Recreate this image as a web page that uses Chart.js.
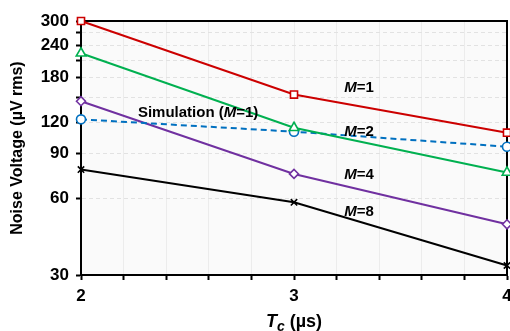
<!DOCTYPE html>
<html>
<head>
<meta charset="utf-8">
<script src="https://cdn.jsdelivr.net/npm/chart.js@4"></script>
<style>
  html, body { margin: 0; padding: 0; background: #fff; }
  #wrap { width: 510px; height: 331px; }
</style>
</head>
<body>
<div id="wrap"><canvas id="myChart" width="510" height="331"></canvas></div>
<script>
// T_c values (us) and noise voltage (uV rms)
const tcValues = [2, 3, 4];
const m1Values = [300, 154, 109];
const m2Values = [224, 114, 76];
const simValues = [123, 110, 96];
const m4Values = [145, 75, 47.5];
const m8Values = [78, 58, 32.7];

const yTickValues = [30, 60, 90, 120, 150, 180, 210, 240, 270, 300];
const yTickLabels = ["30", "60", "90", "120", "", "180", "", "240", "", "300"];
const xTickLabels = ["2", "3", "4"];

const FONT = "'Liberation Sans', Arial, sans-serif";
const PLOT_RIGHT = 507;

function toPoints(values) {
  return tcValues.map((x, i) => ({ x: x, y: values[i] }));
}

// text labels next to the curves, placed in data coordinates
const curveLabels = [
  { parts: [["M", true], ["=1", false]], x: 3.305, y: 164 },
  { parts: [["M", true], ["=2", false]], x: 3.305, y: 110 },
  { parts: [["M", true], ["=4", false]], x: 3.305, y: 74.7 },
  { parts: [["M", true], ["=8", false]], x: 3.305, y: 53 },
  { parts: [["Simulation (", false], ["M", true], ["=1)", false]], x: 2.55, y: 130 },
];

function drawParts(c, parts, cx, cy, size) {
  let total = 0;
  parts.forEach((p) => {
    c.font = (p[1] ? "italic " : "") + "bold " + size + "px " + FONT;
    total += c.measureText(p[0]).width;
  });
  let x = cx - total / 2;
  parts.forEach((p) => {
    c.font = (p[1] ? "italic " : "") + "bold " + size + "px " + FONT;
    c.fillText(p[0], x, cy);
    x += c.measureText(p[0]).width;
  });
}

const noPadding = () => ({ left: 0, top: 0, right: 0, bottom: 0 });

const framePlugin = {
  id: "frame",
  // pin the right edge of the plot where the original has it
  afterLayout(chart) {
    const xs = chart.scales.x;
    chart.chartArea.right = PLOT_RIGHT;
    chart.chartArea.width = PLOT_RIGHT - chart.chartArea.left;
    xs.right = PLOT_RIGHT;
    xs.width = PLOT_RIGHT - xs.left;
    xs.configure();
    const ys = chart.scales.y;
    ys.configure();
  },
  beforeDraw(chart) {
    const { ctx: c, chartArea: a } = chart;
    c.save();
    c.fillStyle = "#fafafa";
    c.fillRect(a.left, a.top, a.right - a.left, a.bottom - a.top);
    c.restore();
  },
  beforeDatasetsDraw(chart) {
    const { ctx: c, chartArea: a } = chart;
    c.save();
    c.strokeStyle = "#000";
    c.lineWidth = 2;
    c.strokeRect(a.left, a.top, a.right - a.left, a.bottom - a.top);
    c.restore();
  },
  afterDraw(chart) {
    const { ctx: c, chartArea: a, scales } = chart;
    c.save();
    c.fillStyle = "#000";
    c.textBaseline = "middle";
    curveLabels.forEach((l) => {
      drawParts(c, l.parts, scales.x.getPixelForValue(l.x), scales.y.getPixelForValue(l.y), 15);
    });

    // y axis title
    c.save();
    c.translate(18, (a.top + a.bottom) / 2);
    c.rotate(-Math.PI / 2);
    c.textAlign = "center";
    c.font = "bold 16px " + FONT;
    c.fillText("Noise Voltage (\u00b5V rms)", 0, 0);
    c.restore();

    // x axis title: T with subscript c
    c.textBaseline = "alphabetic";
    c.textAlign = "left";
    const f1 = "italic bold 18px " + FONT;
    const f2 = "italic bold 14px " + FONT;
    const f3 = "bold 18px " + FONT;
    c.font = f1; const w1 = c.measureText("T").width;
    c.font = f2; const w2 = c.measureText("c").width;
    c.font = f3; const w3 = c.measureText(" (\u00b5s)").width;
    let x = (a.left + a.right) / 2 - (w1 + w2 + w3) / 2;
    const base = 327;
    c.font = f1; c.fillText("T", x, base); x += w1;
    c.font = f2; c.fillText("c", x, base + 4); x += w2;
    c.font = f3; c.fillText(" (\u00b5s)", x, base);
    c.restore();
  },
};

const ctx = document.querySelector("#myChart");

const myChart = new Chart(ctx, {
  type: "line",
  data: {
    datasets: [
      {
        label: "M=1",
        data: toPoints(m1Values),
        borderColor: "#cc0000",
        pointStyle: "rect",
        pointRadius: 5,
      },
      {
        label: "M=2",
        data: toPoints(m2Values),
        borderColor: "#00b050",
        pointStyle: "triangle",
        pointRadius: 5.5,
      },
      {
        label: "Simulation (M=1)",
        data: toPoints(simValues),
        borderColor: "#0070c0",
        borderDash: [6, 4],
        pointStyle: "circle",
        pointRadius: 4.5,
      },
      {
        label: "M=4",
        data: toPoints(m4Values),
        borderColor: "#7030a0",
        pointStyle: "rectRot",
        pointRadius: 4.5,
      },
      {
        label: "M=8",
        data: toPoints(m8Values),
        borderColor: "#000000",
        pointStyle: "crossRot",
        pointRadius: 4.5,
      },
    ].map((d) => ({
      ...d,
      borderWidth: 2,
      pointBorderWidth: 1.6,
      pointBorderColor: d.borderColor,
      pointBackgroundColor: "#ffffff",
      fill: false,
      tension: 0,
      clip: false,
    })),
  },
  options: {
    responsive: false,
    animation: false,
    events: [],
    layout: { padding: { top: 21, right: 3, left: 0, bottom: 0 } },
    plugins: { legend: { display: false }, tooltip: { enabled: false } },
    scales: {
      x: {
        type: "linear",
        min: 2,
        max: 4,
        afterBuildTicks: (scale) => {
          const t = [];
          for (let i = 0; i <= 10; i++) t.push({ value: 2 + i * 0.2 });
          scale.ticks = t;
        },
        afterFit: (scale) => {
          scale.height = 56;
          scale.paddingLeft = 0;
          scale.paddingRight = 0;
          scale.getPadding = noPadding;
        },
        ticks: {
          autoSkip: false,
          maxRotation: 0,
          padding: 6,
          color: "#000",
          font: { family: FONT, size: 17, weight: "bold" },
          callback: (v) => {
            const r = Math.round(v);
            return Math.abs(v - r) < 1e-6 ? xTickLabels[tcValues.indexOf(r)] : "";
          },
        },
        grid: {
          color: "#ececec",
          lineWidth: 1,
          tickLength: 5,
          tickColor: "#000",
          tickWidth: 2,
        },
        border: { color: "#000", width: 2 },
      },
      y: {
        type: "logarithmic",
        min: 30,
        max: 300,
        afterBuildTicks: (scale) => {
          scale.ticks = yTickValues.map((v) => ({ value: v }));
        },
        afterFit: (scale) => {
          scale.width = 81;
          scale.paddingTop = 0;
          scale.paddingBottom = 0;
          scale.getPadding = noPadding;
        },
        ticks: {
          autoSkip: false,
          padding: 7,
          color: "#000",
          font: { family: FONT, size: 17, weight: "bold" },
          callback: (v) => yTickLabels[yTickValues.indexOf(v)],
        },
        grid: {
          color: "#e2e2e2",
          lineWidth: 1,
          tickLength: 5,
          tickColor: "#000",
          tickWidth: 2,
        },
        border: { color: "#000", width: 2, dash: [4, 3] },
      },
    },
  },
  plugins: [framePlugin],
});
</script>
</body>
</html>
